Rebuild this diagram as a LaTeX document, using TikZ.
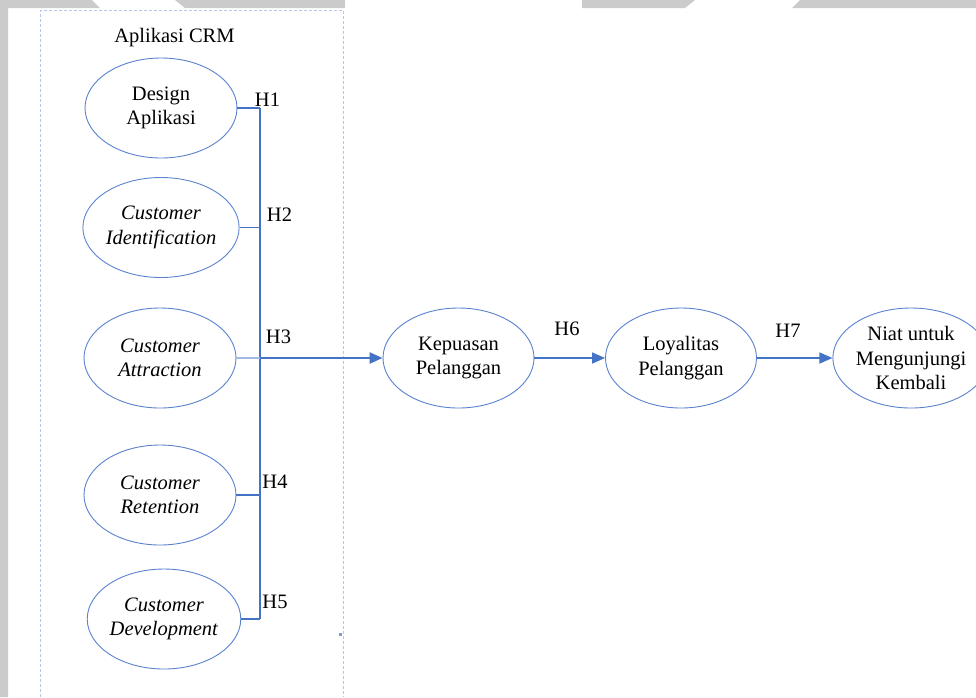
\documentclass[tikz,border=0pt]{standalone}
\usepackage{fontspec}
\setmainfont{Liberation Serif}
\usetikzlibrary{shapes.geometric,arrows.meta}
\definecolor{ellc}{HTML}{5B82CF}
\definecolor{conc}{HTML}{4472C4}
\definecolor{lightc}{HTML}{A3B9E4}
\definecolor{framec}{HTML}{B4C7E7}
\definecolor{barc}{HTML}{CBCBCB}
\tikzset{
  var/.style={ellipse, draw=ellc, line width=0.9pt, minimum width=152pt, minimum height=100pt,
    inner sep=0pt, align=center, font=\fontsize{20.5}{24.5}\selectfont},
  hlab/.style={font=\fontsize{20.5}{24.5}\selectfont, inner sep=0pt},
  conn/.style={draw=conc, line width=1.5pt},
  arr/.style={conn, -{Triangle[length=13pt,width=11pt]}},
}
\begin{document}
\begin{tikzpicture}[x=1pt,y=-1pt]
\path[use as bounding box] (0,0) rectangle (976,697);
\clip (0,0) rectangle (976,697);
\fill[white] (0,0) rectangle (976,697);
% page-edge grey bars
\fill[barc] (0,0) -- (92,0) -- (100,8) -- (8,8) -- (8,697) -- (0,697) -- cycle;
\fill[barc] (175,0) -- (345,0) -- (345,8) -- (185,8) -- cycle;
\fill[barc] (582,0) -- (695,0) -- (685,8) -- (582,8) -- cycle;
\fill[barc] (800,0) -- (976,0) -- (976,8) -- (792,8) -- cycle;
% dashed frame
\draw[framec, line width=0.8pt, dash pattern=on 3pt off 2pt] (40.5,697) -- (40.5,10) -- (343,10) -- (343,697);
\fill[conc!70] (339,633) rectangle (342,635.5);
\node[hlab] (title) at (174.5,37.5) {Aplikasi CRM};
% variables
\node[var] (da) at (161,108) {Design\\Aplikasi};
\node[var] (ci) at (161,227.5) {\textit{Customer}\\\textit{Identification}};
\node[var] (ca) at (160,358) {\textit{Customer}\\\textit{Attraction}};
\node[var] (cr) at (160,495) {\textit{Customer}\\\textit{Retention}};
\node[var] (cd) at (164,619) {\textit{Customer}\\\textit{Development}};
\node[var, minimum width=151pt] (kp) at (458.5,358) {Kepuasan\\Pelanggan};
\node[var, minimum width=151pt] (lp) at (681,358) {Loyalitas\\Pelanggan};
\node[var, minimum width=140pt] (nk) at (911,358) {Niat untuk\\Mengunjungi\\Kembali};
% junction line
\coordinate (j1) at (260,108);
\coordinate (j5) at (cd.east -| j1);
\draw[conn] (j1) -- (j5);
\draw[conn] (da.east) -- (j1);
\draw[conn] (ci.east) -- (ci.east -| j1);
\draw[lightc, line width=2.2pt] (ca.east) -- (ca.east -| j1);
\draw[arr, line width=2.5pt] (ca.east -| j1) -- (kp.west);
\draw[conn] (cr.east) -- (cr.east -| j1);
\draw[conn] (cd.east) -- (j5);
\draw[arr] (kp.east) -- (lp.west);
\draw[arr] (lp.east) -- (nk.west);
% labels
\node[hlab] (h1) at (267.5,100) {H1};
\node[hlab] (h2) at (279.5,215) {H2};
\node[hlab] (h3) at (278.5,336.5) {H3};
\node[hlab] (h4) at (275,482) {H4};
\node[hlab] (h5) at (275,602) {H5};
\node[hlab] (h6) at (567,329) {H6};
\node[hlab] (h7) at (788,331) {H7};
\end{tikzpicture}
\end{document}
